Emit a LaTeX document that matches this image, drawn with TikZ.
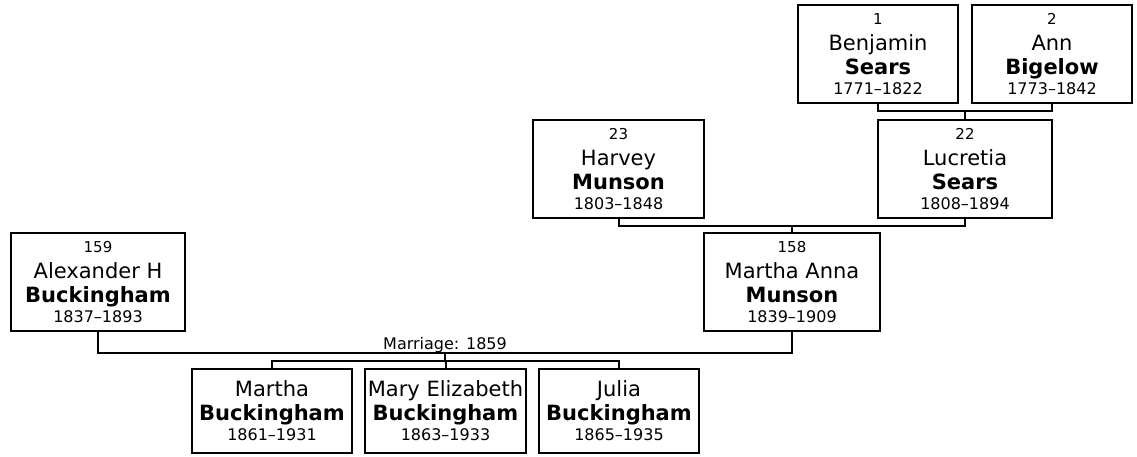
\documentclass[tikz,border=0pt]{standalone}
\usepackage{fontspec}
\setmainfont{DejaVu Sans}
\usetikzlibrary{positioning}
\tikzset{
  persbox/.style={draw, line width=2pt, align=center, inner sep=0pt, outer sep=0pt,
    minimum height=98pt, font=\fontsize{21}{24}\selectfont},
  kidbox/.style={persbox, minimum height=84pt},
  link/.style={line width=2pt, line join=miter},
}
\newcommand{\pers}[4]{{\fontsize{15}{18}\selectfont #1}\\[2pt]#2\\\textbf{#3}\\[-4pt]{\fontsize{16}{19}\selectfont #4}}
\newcommand{\kid}[3]{#1\\\textbf{#2}\\[-4pt]{\fontsize{16}{19}\selectfont #3}}

\begin{document}
\begin{tikzpicture}[x=1pt,y=-1pt]
  \useasboundingbox (0,0) rectangle (1137,456);
  % grandparents of Martha Anna
  \node[persbox, minimum width=160pt] (ben) at (878,54) {\pers{1}{Benjamin}{Sears}{1771–1822}};
  \node[persbox, minimum width=160pt, right=14pt of ben] (ann) {\pers{2}{Ann}{Bigelow}{1773–1842}};
  \node[persbox, minimum width=174pt] (lucretia) at (965,169) {\pers{22}{Lucretia}{Sears}{1808–1894}};
  \node[persbox, minimum width=171pt] (harvey) at (618.5,169) {\pers{23}{Harvey}{Munson}{1803–1848}};
  % couple
  \node[persbox, minimum width=176pt] (martha) at (792,282) {\pers{158}{Martha Anna}{Munson}{1839–1909}};
  \node[persbox, minimum width=174pt] (alex) at (98,282) {\pers{159}{Alexander H}{Buckingham}{1837–1893}};
  % children
  \node[kidbox, minimum width=160pt] (kid1) at (272,411) {\kid{Martha}{Buckingham}{1861–1931}};
  \node[kidbox, minimum width=161pt, right=13pt of kid1] (kid2) {\kid{Mary Elizabeth}{Buckingham}{1863–1933}};
  \node[kidbox, minimum width=160pt, right=13pt of kid2] (kid3) {\kid{Julia}{Buckingham}{1865–1935}};

  \draw[link] (ben.south) -- ++(0,8) -| (ann.south);
  \draw[link] (lucretia.north) -- ++(0,-9);
  \draw[link] (harvey.south) -- ++(0,8) -| (lucretia.south);
  \draw[link] (martha.north) -- ++(0,-7);
  \coordinate (wed) at (445,353);
  \coordinate (kids) at (445,361);
  \draw[link] (alex.south) |- (wed) -| (martha.south);
  \draw[link] (wed) -- (kids);
  \draw[link] (kid1.north) |- (kids) -| (kid3.north);
  \draw[link] (kid2.north) -- (kid2.north |- kids);
  \node[anchor=base, font=\fontsize{16}{19}\selectfont] (wedlbl) at (445,349) {Marriage: 1859};
\end{tikzpicture}
\end{document}
